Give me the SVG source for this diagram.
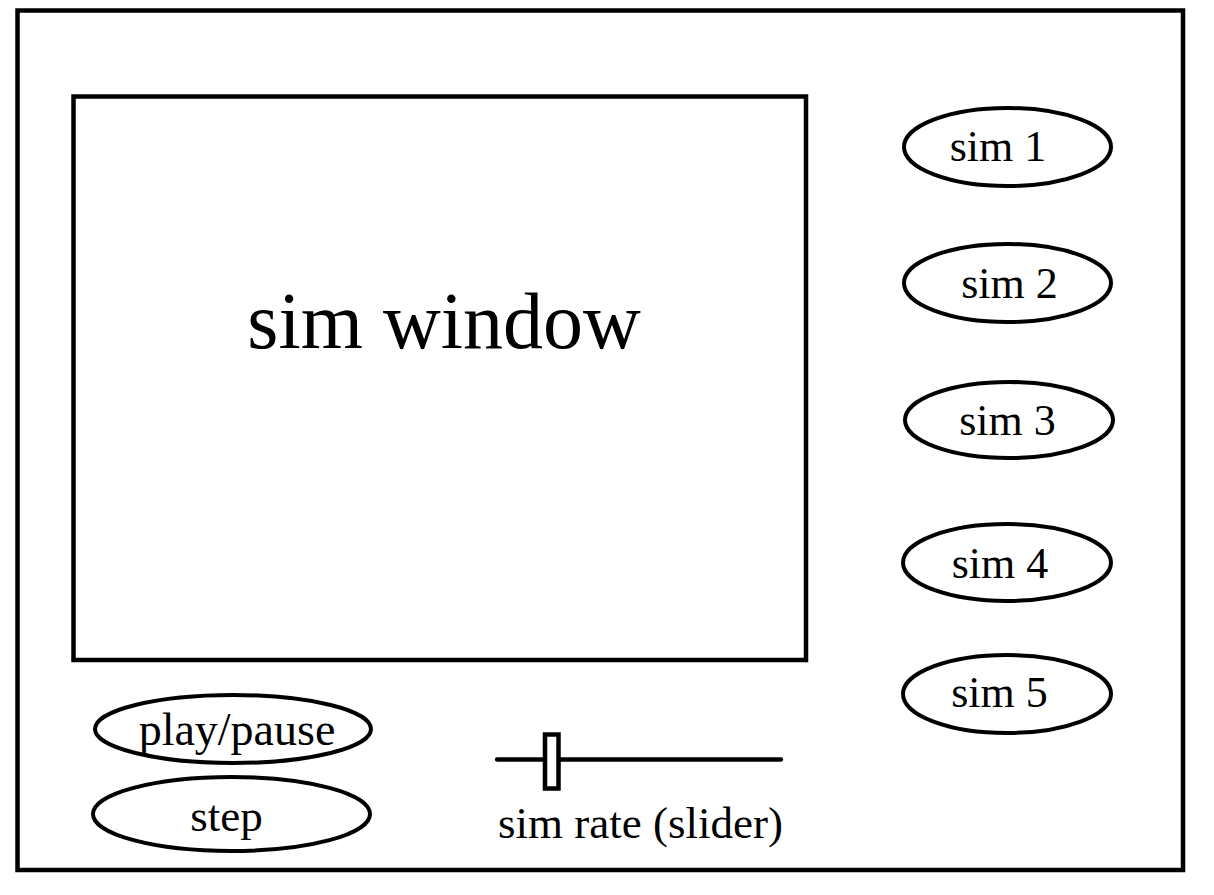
<svg xmlns="http://www.w3.org/2000/svg" width="1214" height="895" viewBox="0 0 1214 895">
<style>
.s{fill:none;stroke:#000;stroke-width:4.5}
.e{fill:#fff;stroke:#000;stroke-width:4}
.t{font-family:"Liberation Serif","Times New Roman",serif;fill:#000;text-anchor:middle}
.b{font-size:44px}
</style>
<rect width="1214" height="895" fill="#fff"/>
<g id="frame"><rect class="s" x="17.5" y="10.5" width="1165.5" height="859.5" stroke-width="5"/></g>
<g id="sim-window">
<rect class="s" x="73.5" y="96.5" width="732.5" height="563.5"/>
<text class="t" x="444" y="348" font-size="80">sim window</text>
</g>
<g id="sim1"><ellipse class="e" cx="1007.5" cy="147" rx="103.5" ry="39"/><text class="t b" x="998" y="161">sim 1</text></g>
<g id="sim2"><ellipse class="e" cx="1007.5" cy="283" rx="103.5" ry="39"/><text class="t b" x="1009.5" y="298">sim 2</text></g>
<g id="sim3"><ellipse class="e" cx="1009" cy="420" rx="104" ry="38"/><text class="t b" x="1007.5" y="435">sim 3</text></g>
<g id="sim4"><ellipse class="e" cx="1007" cy="562.5" rx="104" ry="38.5"/><text class="t b" x="1000" y="578">sim 4</text></g>
<g id="sim5"><ellipse class="e" cx="1007" cy="694" rx="104" ry="39"/><text class="t b" x="999.5" y="707">sim 5</text></g>
<g id="play-pause"><ellipse class="e" cx="233" cy="729" rx="138" ry="34"/><text class="t" x="237" y="745" font-size="46">play/pause</text></g>
<g id="step"><ellipse class="e" cx="231.5" cy="814" rx="138.5" ry="37"/><text class="t" x="226.5" y="831" font-size="45">step</text></g>
<g id="slider">
<line x1="497" y1="759.5" x2="781" y2="759.5" stroke="#000" stroke-width="4.3" stroke-linecap="round"/>
<rect x="545" y="734.5" width="13.5" height="54" fill="#fff" stroke="#000" stroke-width="4.5"/>
<text class="t" x="640.5" y="838" font-size="45">sim rate (slider)</text>
</g>
</svg>
